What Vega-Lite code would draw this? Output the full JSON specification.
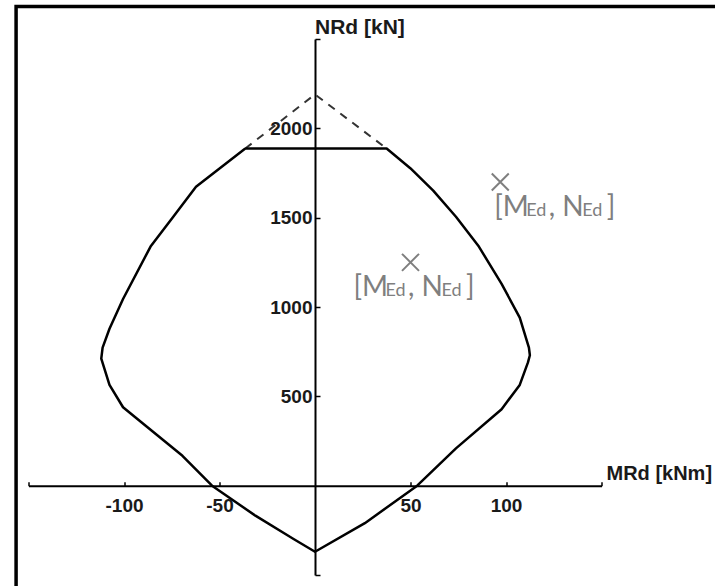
{
  "$schema": "https://vega.github.io/schema/vega-lite/v6.json",
  "width": 573,
  "height": 536,
  "autosize": {"type": "none"},
  "padding": {"left": 28.5, "top": 39, "right": 113.5, "bottom": 11},
  "background": "white",
  "config": {"view": {"stroke": null}, "font": "Liberation Sans"},
  "datasets": {
    "outline": [
      {"i": 1, "m": -36.5, "n": 1887}, {"i": 2, "m": 37.5, "n": 1887}, {"i": 3, "m": 49.9, "n": 1777},
      {"i": 4, "m": 61.9, "n": 1651}, {"i": 5, "m": 73.8, "n": 1505}, {"i": 6, "m": 85.8, "n": 1338},
      {"i": 7, "m": 97.7, "n": 1129}, {"i": 8, "m": 107.2, "n": 941}, {"i": 9, "m": 112, "n": 773},
      {"i": 10, "m": 112.5, "n": 730}, {"i": 11, "m": 111.5, "n": 690}, {"i": 12, "m": 107.2, "n": 564},
      {"i": 13, "m": 97.7, "n": 428}, {"i": 15, "m": 73.8, "n": 209}, {"i": 16, "m": 53.5, "n": 0},
      {"i": 17, "m": 26.1, "n": -210}, {"i": 18, "m": 0, "n": -370}, {"i": 19, "m": -11, "n": -300},
      {"i": 20, "m": -31.2, "n": -168}, {"i": 21, "m": -53.9, "n": 0}, {"i": 22, "m": -69.4, "n": 167},
      {"i": 23, "m": -90.9, "n": 355}, {"i": 24, "m": -100.5, "n": 439}, {"i": 25, "m": -107.6, "n": 564},
      {"i": 26, "m": -111.9, "n": 711}, {"i": 27, "m": -111.2, "n": 773}, {"i": 28, "m": -107.6, "n": 878},
      {"i": 29, "m": -100.5, "n": 1045}, {"i": 30, "m": -86.1, "n": 1338}, {"i": 31, "m": -74.2, "n": 1505},
      {"i": 32, "m": -62.3, "n": 1673}, {"i": 33, "m": -36.5, "n": 1887}
    ],
    "cap": [
      {"i": 1, "m": -36.5, "n": 1887}, {"i": 2, "m": 0, "n": 2190}, {"i": 3, "m": 37.5, "n": 1887}
    ],
    "frame": [
      {"i": 1, "m": 215, "n": 2681.9}, {"i": 2, "m": -156.5, "n": 2681.9}, {"i": 3, "m": -156.5, "n": -620}
    ],
    "loads": [
      {"id": "A", "m": 50, "n": 1250},
      {"id": "B", "m": 97, "n": 1700}
    ],
    "titles": [
      {"id": "N", "t": "NRd [kN]", "m": 0, "n": 2500},
      {"id": "M", "t": "MRd [kNm]", "m": 150, "n": 0}
    ]
  },
  "encoding": {
    "x": {
      "field": "m", "type": "quantitative",
      "scale": {"domain": [-150, 150], "nice": false, "zero": false},
      "axis": {
        "title": null, "grid": false, "offset": -89.3,
        "values": [-150, -100, -50, 50, 100, 150],
        "labelExpr": "abs(datum.value) == 150 ? '' : toString(datum.value)",
        "tickSize": -4, "tickColor": "black", "tickWidth": 1.5,
        "domainColor": "black", "domainWidth": 2,
        "labelFont": "Liberation Sans", "labelFontWeight": "bold", "labelFontSize": 19,
        "labelColor": "#1a1a1a", "labelPadding": 15, "labelFlush": false, "labelOverlap": false
      }
    },
    "y": {
      "field": "n", "type": "quantitative",
      "scale": {"domain": [-500, 2500], "nice": false, "zero": false},
      "axis": {
        "title": null, "grid": false, "offset": -286.5,
        "values": [-500, 500, 1000, 1500, 2000, 2500],
        "labelExpr": "(datum.value == -500 || datum.value == 2500) ? '' : toString(datum.value)",
        "tickSize": -5, "tickColor": "black", "tickWidth": 1.5,
        "domainColor": "black", "domainWidth": 2,
        "labelFont": "Liberation Sans", "labelFontWeight": "bold", "labelFontSize": 19,
        "labelColor": "#1a1a1a", "labelPadding": 8, "labelFlush": false, "labelOverlap": false
      }
    }
  },
  "layer": [
    {
      "data": {"name": "frame"},
      "mark": {"type": "line", "color": "black", "strokeWidth": 3.5, "strokeCap": "square"},
      "encoding": {"order": {"field": "i"}}
    },
    {
      "data": {"name": "cap"},
      "mark": {"type": "line", "color": "#333333", "strokeWidth": 2, "strokeDash": [8, 7]},
      "encoding": {"order": {"field": "i"}}
    },
    {
      "data": {"name": "outline"},
      "mark": {"type": "line", "color": "black", "strokeWidth": 2.5, "strokeJoin": "round"},
      "encoding": {"order": {"field": "i"}}
    },
    {
      "data": {"name": "loads"},
      "mark": {"type": "point", "shape": "M-1,-1L1,1M1,-1L-1,1", "size": 289, "filled": false, "stroke": "#7f7f7f", "strokeWidth": 2, "opacity": 1}
    },
    {
      "data": {"name": "titles"},
      "transform": [{"filter": "datum.id == 'N'"}],
      "mark": {"type": "text", "align": "left", "baseline": "alphabetic", "dx": 0, "dy": -5, "font": "Liberation Sans", "fontWeight": "bold", "fontSize": 21, "color": "#1a1a1a"},
      "encoding": {"text": {"field": "t"}}
    },
    {
      "data": {"name": "titles"},
      "transform": [{"filter": "datum.id == 'M'"}],
      "mark": {"type": "text", "align": "left", "baseline": "alphabetic", "dx": 5, "dy": -6, "font": "Liberation Sans", "fontWeight": "bold", "fontSize": 20, "color": "#1a1a1a"},
      "encoding": {"text": {"field": "t"}}
    },
    {
      "data": {"name": "loads"},
      "transform": [{"filter": "datum.id == 'B'"}],
      "layer": [
        {"mark": {"type": "text", "text": "[M", "align": "left", "baseline": "alphabetic", "dx": -6, "dy": 34, "font": "Lato", "fontSize": 28, "color": "#7f7f7f"}},
        {"mark": {"type": "text", "text": "Ed", "align": "left", "baseline": "alphabetic", "dx": 26, "dy": 34, "font": "Lato", "fontSize": 18, "color": "#7f7f7f"}},
        {"mark": {"type": "text", "text": ", N", "align": "left", "baseline": "alphabetic", "dx": 48.5, "dy": 34, "font": "Lato", "fontSize": 28, "color": "#7f7f7f"}},
        {"mark": {"type": "text", "text": "Ed", "align": "left", "baseline": "alphabetic", "dx": 82, "dy": 34, "font": "Lato", "fontSize": 18, "color": "#7f7f7f"}},
        {"mark": {"type": "text", "text": "]", "align": "left", "baseline": "alphabetic", "dx": 106.5, "dy": 34, "font": "Lato", "fontSize": 28, "color": "#7f7f7f"}}
      ]
    },
    {
      "data": {"name": "loads"},
      "transform": [{"filter": "datum.id == 'A'"}],
      "layer": [
        {"mark": {"type": "text", "text": "[M", "align": "left", "baseline": "alphabetic", "dx": -57, "dy": 34, "font": "Lato", "fontSize": 28, "color": "#7f7f7f"}},
        {"mark": {"type": "text", "text": "Ed", "align": "left", "baseline": "alphabetic", "dx": -25, "dy": 34, "font": "Lato", "fontSize": 18, "color": "#7f7f7f"}},
        {"mark": {"type": "text", "text": ", N", "align": "left", "baseline": "alphabetic", "dx": -2.5, "dy": 34, "font": "Lato", "fontSize": 28, "color": "#7f7f7f"}},
        {"mark": {"type": "text", "text": "Ed", "align": "left", "baseline": "alphabetic", "dx": 31, "dy": 34, "font": "Lato", "fontSize": 18, "color": "#7f7f7f"}},
        {"mark": {"type": "text", "text": "]", "align": "left", "baseline": "alphabetic", "dx": 55.5, "dy": 34, "font": "Lato", "fontSize": 28, "color": "#7f7f7f"}}
      ]
    }
  ]
}
